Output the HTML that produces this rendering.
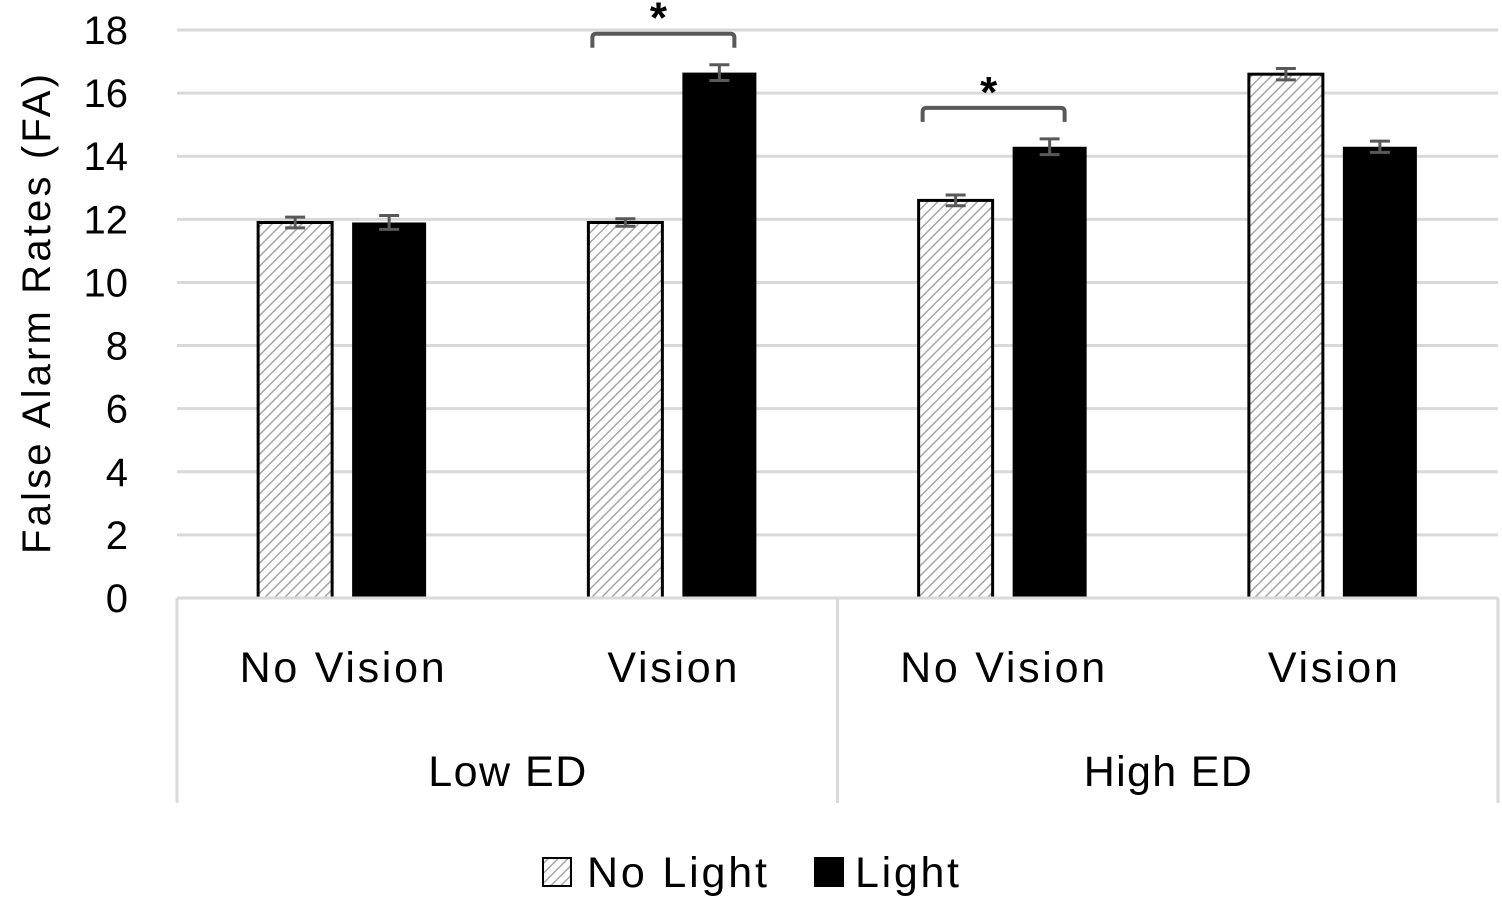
<!DOCTYPE html>
<html><head><meta charset="utf-8"><style>
html,body{margin:0;padding:0;background:#fff;}
svg{display:block;font-family:"Liberation Sans",sans-serif;}
</style></head><body>
<svg id="chart" width="1502" height="899" viewBox="0 0 1502 899">
<defs>
<pattern id="hatch" patternUnits="userSpaceOnUse" width="7" height="7" patternTransform="rotate(45)">
<rect width="7" height="7" fill="#fff"/>
<line x1="0" y1="0" x2="0" y2="7" stroke="#a6a6a6" stroke-width="3"/>
</pattern>
</defs>
<g id="grid"></g>
<g id="bars"></g>
<g id="axes"></g>
<text x="50" y="314" font-size="40" text-anchor="middle" transform="rotate(-90 50 314)" textLength="480">False Alarm Rates (FA)</text>
<g>
<rect x="543" y="858" width="28" height="28" fill="url(#hatch)" stroke="#000" stroke-width="2"/>
<text x="587" y="887" font-size="43" textLength="180">No Light</text>
<rect x="814" y="857" width="30" height="30" fill="#000"/>
<text x="855" y="887" font-size="43" textLength="104">Light</text>
</g>
</svg>
<script>
const categories = ["No Vision","Vision","No Vision","Vision"];
const groups = ["Low ED","High ED"];
const noLight = [11.9, 11.9, 12.6, 16.6];
const light = [11.9, 16.65, 14.3, 14.3];
const noLightErr = [0.17, 0.12, 0.17, 0.18];
const lightErr = [0.22, 0.25, 0.25, 0.18];
const yTicks = [0,2,4,6,8,10,12,14,16,18];
const sigPairs = [1, 2];

const NS="http://www.w3.org/2000/svg";
const X0=177, X1=1498, Y0=598, Y1=30, YMAX=18;
const catW=(X1-X0)/categories.length;
const y=v=>Y0-(v/YMAX)*(Y0-Y1);
const xc=i=>X0+catW*(i+0.5);
function mk(tag,attrs,parent){const e=document.createElementNS(NS,tag);for(const k in attrs)e.setAttribute(k,attrs[k]);parent.appendChild(e);return e;}
const grid=document.getElementById('grid'),bars=document.getElementById('bars'),axes=document.getElementById('axes');
yTicks.forEach(t=>{
  if(t>0){const l=mk('line',{x1:X0,x2:X1,y1:y(t),y2:y(t),stroke:'#d9d9d9','stroke-width':3},grid);
  
  }
  const tx=mk('text',{x:128,y:y(t)+14,'font-size':40,'text-anchor':'end'},axes);
  tx.textContent=t;
  
  
});
const bw=74, gap=20;
function errBar(cx,v,e,name){
  const g=mk('g',{stroke:'#595959','stroke-width':3},bars);
  
  
  mk('line',{x1:cx,x2:cx,y1:y(v+e),y2:y(v-e)},g);
  mk('line',{x1:cx-10,x2:cx+10,y1:y(v+e),y2:y(v+e)},g);
  mk('line',{x1:cx-10,x2:cx+10,y1:y(v-e),y2:y(v-e)},g);
}
categories.forEach((c,i)=>{
  const cx=xc(i);
  const xa=cx-gap/2-bw, xb=cx+gap/2;
  const r1=mk('rect',{x:xa,y:y(noLight[i]),width:bw,height:Y0-y(noLight[i]),fill:'url(#hatch)',stroke:'#000','stroke-width':3},bars);
  
  
  const r2=mk('rect',{x:xb,y:y(light[i]),width:bw,height:Y0-y(light[i]),fill:'#000'},bars);
  
  
  errBar(xa+bw/2,noLight[i],noLightErr[i],'error-bar-no-light-'+i);
  errBar(xb+bw/2,light[i],lightErr[i],'error-bar-light-'+i);
  const t=mk('text',{x:cx,y:682,'font-size':43,'text-anchor':'middle',textLength:c.length>6?205:130},axes);
  t.textContent=c;
  
  
});
sigPairs.forEach(i=>{
  const cx=xc(i);
  const L=cx-80, R=cx+62;
  const top=Math.max(noLight[i]+noLightErr[i],light[i]+lightErr[i]);
  const by=y(top)-31;
  const g=mk('g',{},bars);
  
  
  mk('path',{d:`M${L} ${by+14} L${L} ${by+4} Q${L} ${by} ${L+4} ${by} L${R-4} ${by} Q${R} ${by} ${R} ${by+4} L${R} ${by+14}`,fill:'none',stroke:'#595959','stroke-width':4},g);
  const s=mk('text',{x:(L+R)/2-5,y:by-1,'font-size':44,'text-anchor':'middle','font-weight':'bold'},g);
  s.textContent='*';
});
const axisAttrs={stroke:'#d9d9d9','stroke-width':3};
mk('line',Object.assign({x1:X0,x2:X1,y1:Y0,y2:Y0},axisAttrs),axes);
[X0, X0+catW*2, X1].forEach(x=>mk('line',Object.assign({x1:x,x2:x,y1:Y0,y2:803},axisAttrs),axes));
groups.forEach((g,j)=>{
  const t=mk('text',{x:X0+catW*(2*j+1),y:786,'font-size':43,'text-anchor':'middle',textLength:j?168:158},axes);
  t.textContent=g;
  
  
});
</script>
</body></html>
